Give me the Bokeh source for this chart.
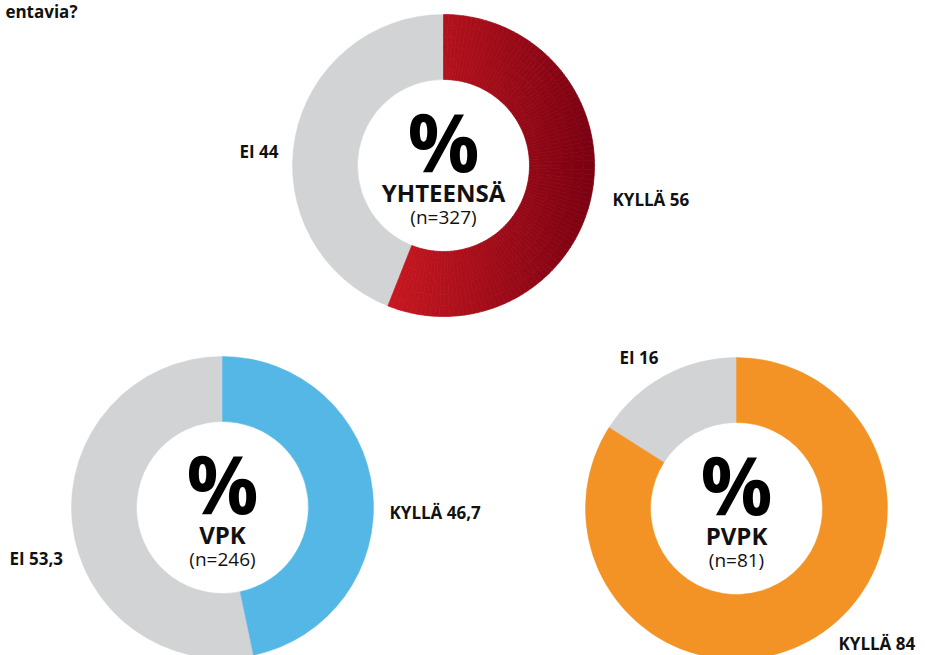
import numpy as np
from bokeh.plotting import figure
from bokeh.models import Range1d
from bokeh.core.properties import value
from bokeh.embed import file_html
from bokeh.resources import INLINE

# ---------------- data ----------------
groups = ["YHTEENSÄ", "VPK", "PVPK"]
n_values = [327, 246, 81]
kylla = [56, 46.7, 84]
ei = [44, 53.3, 16]
answer_names = ["KYLLÄ", "EI"]
title_fragment = "entavia?"

# ---------------- styles / layout ----------------
EI_COLOR = "#d1d3d4"
KYLLA_COLORS = ["gradient", "#55b7e6", "#f39325"]
GRAD_LEFT = (200, 24, 32)
GRAD_RIGHT = (122, 0, 17)
FONT = value("Open Sans")

centers_x = [443, 222, 736]
centers_y = [165, 507, 508]
R_OUT, R_IN = 151, 86
kylla_label_pos = [(612, 199), (389, 512), (838, 643)]
ei_label_pos = [(239, 151), (9, 558), (619, 357)]

W, H = 925, 655
p = figure(width=W, height=H, output_backend="svg", toolbar_location=None,
           x_range=Range1d(0, W), y_range=Range1d(-H, 0),
           x_axis_type=None, y_axis_type=None, min_border=0,
           outline_line_color=None, background_fill_color="white",
           border_fill_color="white")
p.grid.visible = False


def fmt(v):
    return f"{v:g}".replace(".", ",")


def hexc(rgb):
    return "#%02x%02x%02x" % tuple(int(round(c)) for c in rgb)


for i, g in enumerate(groups):
    cx, cy = centers_x[i], -centers_y[i]
    k_frac = kylla[i] / 100.0
    e_frac = ei[i] / 100.0
    k_start = np.pi / 2 - 2 * np.pi * k_frac
    k_end = np.pi / 2
    e_start = np.pi / 2
    e_end = np.pi / 2 + 2 * np.pi * e_frac

    # EI wedge
    p.annular_wedge(x=[cx], y=[cy], inner_radius=R_IN, outer_radius=R_OUT,
                    start_angle=[e_start], end_angle=[e_end],
                    fill_color=EI_COLOR, line_color=EI_COLOR, line_width=0.5)

    # KYLLÄ wedge
    if KYLLA_COLORS[i] == "gradient":
        NA, NR = 110, 6
        a_edges = np.linspace(k_start, k_end, NA + 1)
        r_edges = np.linspace(R_IN, R_OUT, NR + 1)
        samp = np.linspace(k_start, k_end, 400)
        xs_all = np.concatenate([cx + R_OUT * np.cos(samp), cx + R_IN * np.cos(samp)])
        xmin, xmax = xs_all.min(), xs_all.max()
        sa, ea, ir, orr, cols = [], [], [], [], []
        for a in range(NA):
            for r in range(NR):
                amid = 0.5 * (a_edges[a] + a_edges[a + 1])
                rmid = 0.5 * (r_edges[r] + r_edges[r + 1])
                xm = cx + rmid * np.cos(amid)
                t = (xm - xmin) / (xmax - xmin)
                col = [GRAD_LEFT[j] + t * (GRAD_RIGHT[j] - GRAD_LEFT[j]) for j in range(3)]
                sa.append(a_edges[a])
                ea.append(a_edges[a + 1])
                ir.append(r_edges[r])
                orr.append(r_edges[r + 1])
                cols.append(hexc(col))
        p.annular_wedge(x=cx, y=cy, inner_radius=ir, outer_radius=orr,
                        start_angle=sa, end_angle=ea,
                        fill_color=cols, line_color=cols, line_width=0.7)
    else:
        c = KYLLA_COLORS[i]
        p.annular_wedge(x=[cx], y=[cy], inner_radius=R_IN, outer_radius=R_OUT,
                        start_angle=[k_start], end_angle=[k_end],
                        fill_color=c, line_color=c, line_width=0.5)

    # centre texts
    p.text(x=[cx], y=[cy + 25], text=["%"], text_font=FONT, text_font_style="bold",
           text_font_size="80px", text_align="center", text_baseline="alphabetic",
           text_color="#000000")
    p.text(x=[cx], y=[cy - 27], text=[g], text_font=FONT, text_font_style="bold",
           text_font_size="24px", text_align="center", text_baseline="alphabetic",
           text_color="#111111")
    p.text(x=[cx], y=[cy - 51], text=[f"(n={n_values[i]})"], text_font=FONT,
           text_font_size="19px", text_align="center", text_baseline="alphabetic",
           text_color="#111111")

    # answer labels
    kx, ky = kylla_label_pos[i]
    p.text(x=[kx], y=[-ky], text=[f"{answer_names[0]} {fmt(kylla[i])}"], text_font=FONT,
           text_font_style="bold", text_font_size="17px", text_align="left",
           text_baseline="middle", text_color="#111111")
    ex, ey = ei_label_pos[i]
    p.text(x=[ex], y=[-ey], text=[f"{answer_names[1]} {fmt(ei[i])}"], text_font=FONT,
           text_font_style="bold", text_font_size="17px", text_align="left",
           text_baseline="middle", text_color="#111111")

# title fragment at the top-left
p.text(x=[77], y=[-11], text=[title_fragment], text_font=FONT, text_font_style="bold",
       text_font_size="17px", text_align="right", text_baseline="middle",
       text_color="#111111")

open("out.html", "w").write(file_html(p, INLINE))
